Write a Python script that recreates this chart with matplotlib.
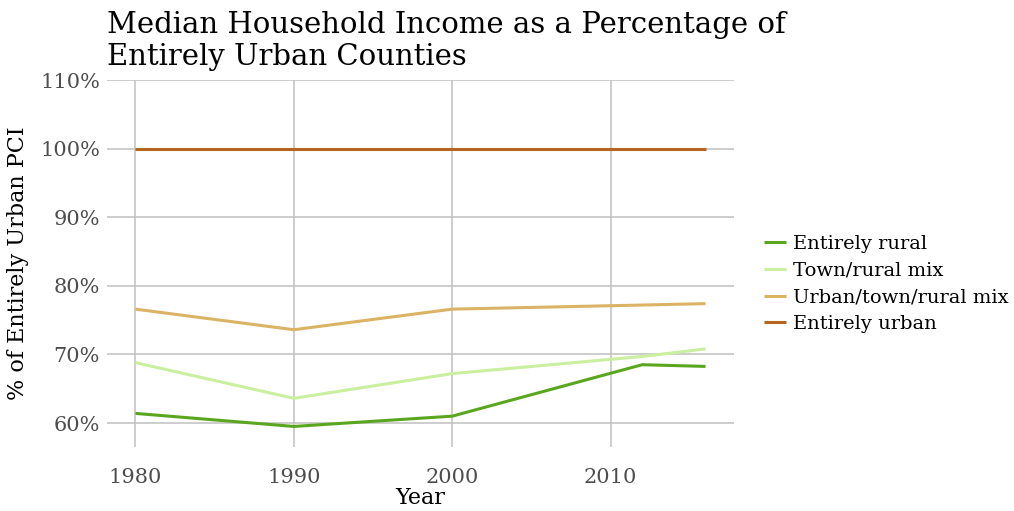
import matplotlib
matplotlib.use("Agg")
import matplotlib.pyplot as plt
from matplotlib.ticker import FuncFormatter

# Median household income as share of entirely urban counties (%)
years = [1980, 1990, 2000, 2012, 2016]
entirely_rural = [61.4, 59.5, 61.0, 68.5, 68.25]
town_rural_mix = [68.8, 63.6, 67.2, 69.7, 70.8]
urban_town_rural_mix = [76.6, 73.6, 76.6, 77.2, 77.4]
entirely_urban = [100, 100, 100, 100, 100]

series = [
    ("Entirely rural", entirely_rural, "#5aa71f"),
    ("Town/rural mix", town_rural_mix, "#c9ef9f"),
    ("Urban/town/rural mix", urban_town_rural_mix, "#dbb365"),
    ("Entirely urban", entirely_urban, "#b5651d"),
]

plt.rcParams["font.family"] = ["DejaVu Serif"]

fig = plt.figure(figsize=(10.14, 5.11), dpi=100)
ax = fig.add_axes([0.1055, 0.1252, 0.6184, 0.7182])

for name, vals, color in series:
    ax.plot(years, vals, color=color, linewidth=2.2, label=name,
            solid_capstyle="butt")

ax.set_xlim(1978.2, 2017.8)
ax.set_ylim(56.5, 110)
ax.set_xticks([1980, 1990, 2000, 2010])
ax.set_yticks([60, 70, 80, 90, 100, 110])
ax.yaxis.set_major_formatter(FuncFormatter(lambda v, _: f"{v:.0f}%"))

ax.grid(True, color="#c0c0c0", linewidth=1.1)
ax.set_axisbelow(True)
for s in ax.spines.values():
    s.set_visible(False)
ax.tick_params(length=0, labelsize=15, colors="#4d4d4d")
ax.tick_params(axis="x", pad=15)
ax.tick_params(axis="y", pad=5)

ax.set_xlabel("Year", fontsize=16, labelpad=0)
ax.set_ylabel("% of Entirely Urban PCI", fontsize=16, labelpad=8)

fig.text(0.1055, 0.978, "Median Household Income as a Percentage of\nEntirely Urban Counties",
         fontsize=21, ha="left", va="top", linespacing=1.15)

fig.legend(*ax.get_legend_handles_labels(), loc="center left",
           bbox_to_anchor=(0.7535, 0.444), frameon=False, borderpad=0,
           borderaxespad=0, fontsize=14, handlelength=1.15,
           handletextpad=0.35, labelspacing=0.45)

fig.savefig("out.png", dpi=100, facecolor="white")
